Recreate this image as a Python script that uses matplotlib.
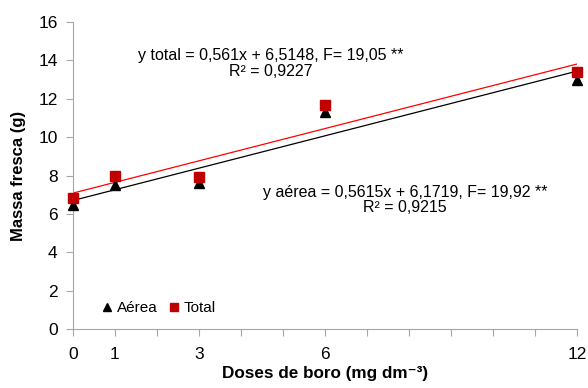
import numpy as np
import matplotlib
matplotlib.use("Agg")
import matplotlib.pyplot as plt

plt.rcParams['font.family'] = ['Liberation Sans', 'DejaVu Sans']

# doses de boro (mg dm-3)
doses = [0, 1, 3, 6, 12]
aerea = [6.45, 7.5, 7.6, 11.3, 13.0]
total = [6.85, 7.95, 7.9, 11.65, 13.4]

xtick_labels = ['0', '1', '', '3', '', '', '6', '', '', '', '', '', '12']
eq_total = "y total = 0,561x + 6,5148, F= 19,05 **\nR² = 0,9227"
eq_aerea = "y aérea = 0,5615x + 6,1719, F= 19,92 **\nR² = 0,9215"

gray = '#A6A6A6'

fig = plt.figure(figsize=(5.88, 3.88), dpi=100)
ax = fig.add_axes([0.1241, 0.152, 0.8572, 0.7913])

# trend lines fitted on the points
xs = np.array([0, 12])
pa = np.polyfit(doses, aerea, 1)
pt = np.polyfit(doses, total, 1)
ax.plot(xs, np.polyval(pa, xs), color='black', lw=0.9, zorder=2)
ax.plot(xs, np.polyval(pt, xs), color='red', lw=0.9, zorder=2)

ax.plot(doses, aerea, '^', color='black', ms=7, label='Aérea', zorder=3, clip_on=False)
ax.plot(doses, total, 's', color='#C00000', ms=7, label='Total', zorder=4, clip_on=False)

ax.set_xlim(0, 12)
ax.set_ylim(0, 16)
ax.set_xticks(range(13))
ax.set_xticklabels(xtick_labels)
ax.set_yticks(range(0, 17, 2))

for s in ['top', 'right']:
    ax.spines[s].set_visible(False)
for s in ['left', 'bottom']:
    ax.spines[s].set_color(gray)
ax.tick_params(axis='x', colors=gray, length=5, pad=8, labelsize=12.5, labelcolor='black')
ax.tick_params(axis='y', colors=gray, length=5, pad=6, labelsize=12.5, labelcolor='black')

ax.set_ylabel('Massa fresca (g)', fontsize=12, fontweight='bold', labelpad=9)
ax.set_xlabel('Doses de boro (mg dm⁻³)', fontsize=12.3, fontweight='bold', labelpad=3)

ax.text(4.71, 13.85, eq_total, ha='center', va='center', fontsize=11.5, linespacing=1.05)
ax.text(7.9, 6.72, eq_aerea, ha='center', va='center', fontsize=11.5, linespacing=1.05)

ax.legend(loc='lower left', bbox_to_anchor=(0.03, 0.0), frameon=False, ncol=2,
          fontsize=11, handlelength=0.7, handletextpad=0.3, columnspacing=0.7,
          markerscale=0.85)

fig.savefig('out.png', dpi=100)
